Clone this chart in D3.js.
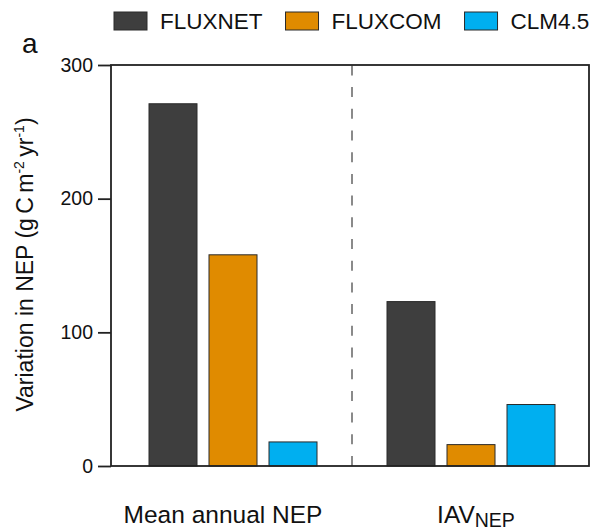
<!DOCTYPE html>
<html>
<head>
<meta charset="utf-8">
<script src="https://cdn.jsdelivr.net/npm/d3@7/dist/d3.min.js"></script>
<style>
    body { margin: 0; background: #fff; }
    svg { display: block; font-family: "Liberation Sans", Arial, sans-serif; }
</style>
</head>
<body>
<svg id="chart" width="592" height="531"></svg>
<script>
// Chart data
const groups = ['mean', 'iav'];
const series = ['FLUXNET', 'FLUXCOM', 'CLM4.5'];
const meanAnnual = [271, 158, 18];
const iavValues = [123, 16, 46];
const yTicks = [0, 100, 200, 300];
const colors = ['#3e3e3e', '#e08b00', '#00aff0'];

const svg = d3.select('#chart');

// Plot frame
const plot = { left: 111, right: 589, top: 65, bottom: 466 };

const y = d3.scaleLinear()
    .domain([0, 300])
    .range([plot.bottom, plot.top]);

// Outer band for the two groups, inner band for the three series
const x0 = d3.scaleBand()
    .domain(groups)
    .range([plot.left + 3, plot.right + 1]);

const x1 = d3.scaleBand()
    .domain(series)
    .range([-84, 84])
    .paddingInner(0.2);

const rows = [];
series.forEach((s, i) => {
    rows.push({ group: 'mean', series: s, value: meanAnnual[i], color: colors[i] });
    rows.push({ group: 'iav', series: s, value: iavValues[i], color: colors[i] });
});

const center = g => x0(g) + x0.bandwidth() / 2;

// Dashed separator between groups (drawn bottom-up so the pattern starts at the axis)
const sepX = (center('mean') + center('iav')) / 2;
svg.append('line')
    .attr('x1', sepX).attr('x2', sepX)
    .attr('y1', plot.bottom).attr('y2', plot.top)
    .attr('stroke', '#8a8a8a')
    .attr('stroke-width', 2)
    .attr('stroke-dasharray', '10,11.7');

// Bars
svg.append('g')
    .selectAll('rect')
    .data(rows)
    .join('rect')
    .attr('x', d => center(d.group) + x1(d.series))
    .attr('y', d => y(d.value))
    .attr('width', x1.bandwidth())
    .attr('height', d => y(0) - y(d.value))
    .attr('fill', d => d.color)
    .attr('stroke', '#2a2a2a')
    .attr('stroke-width', 1);

// Box around the plot
svg.append('rect')
    .attr('x', plot.left)
    .attr('y', plot.top)
    .attr('width', plot.right - plot.left)
    .attr('height', plot.bottom - plot.top)
    .attr('fill', 'none')
    .attr('stroke', '#222')
    .attr('stroke-width', 1.8);

// Y axis ticks
const yAxis = svg.append('g')
    .attr('transform', `translate(${plot.left},0)`)
    .call(d3.axisLeft(y).tickValues(yTicks).tickSize(13).tickPadding(5).tickSizeOuter(0));

yAxis.select('.domain').remove();
yAxis.selectAll('.tick line').attr('stroke', '#222').attr('stroke-width', 1.8);
yAxis.selectAll('.tick text')
    .attr('font-size', 19.5)
    .attr('fill', '#111')
    .attr('font-family', '"Liberation Sans", Arial, sans-serif');

// Y axis title
const yTitle = svg.append('text')
    .attr('transform', `translate(33,${(plot.top + plot.bottom) / 2 - 1}) rotate(-90)`)
    .attr('text-anchor', 'middle')
    .attr('font-size', 23)
    .attr('fill', '#111');
yTitle.append('tspan').text('Variation in NEP (');
yTitle.append('tspan').attr('word-spacing', -2).text('g C m');
yTitle.append('tspan').attr('font-size', 14).attr('dy', -9).text('-2');
yTitle.append('tspan').attr('dy', 9).attr('word-spacing', -2).text(' yr');
yTitle.append('tspan').attr('font-size', 14).attr('dy', -9).text('-1');
yTitle.append('tspan').attr('dy', 9).text(')');

// Group labels
svg.append('text')
    .attr('x', center('mean') - 10)
    .attr('y', 523)
    .attr('text-anchor', 'middle')
    .attr('font-size', 24.5)
    .attr('fill', '#111')
    .text('Mean annual NEP');

const iavLabel = svg.append('text')
    .attr('x', center('iav') + 5)
    .attr('y', 523)
    .attr('text-anchor', 'middle')
    .attr('font-size', 24.5)
    .attr('fill', '#111');
iavLabel.append('tspan').text('IAV');
iavLabel.append('tspan').attr('font-size', 19.5).attr('dy', 4).text('NEP');

// Panel letter
svg.append('text')
    .attr('x', 22)
    .attr('y', 53)
    .attr('font-size', 28)
    .attr('fill', '#111')
    .text('a');

// Legend
let lx = 114;
series.forEach((s, i) => {
    svg.append('rect')
        .attr('x', lx).attr('y', 12)
        .attr('width', 33).attr('height', 18)
        .attr('fill', colors[i])
        .attr('stroke', '#2a2a2a')
        .attr('stroke-width', 1);
    const t = svg.append('text')
        .attr('x', lx + 46)
        .attr('y', 29.3)
        .attr('font-size', 22.5)
        .attr('fill', '#111')
        .text(s);
    lx += 46 + t.node().getComputedTextLength() + 23;
});
</script>
</body>
</html>
